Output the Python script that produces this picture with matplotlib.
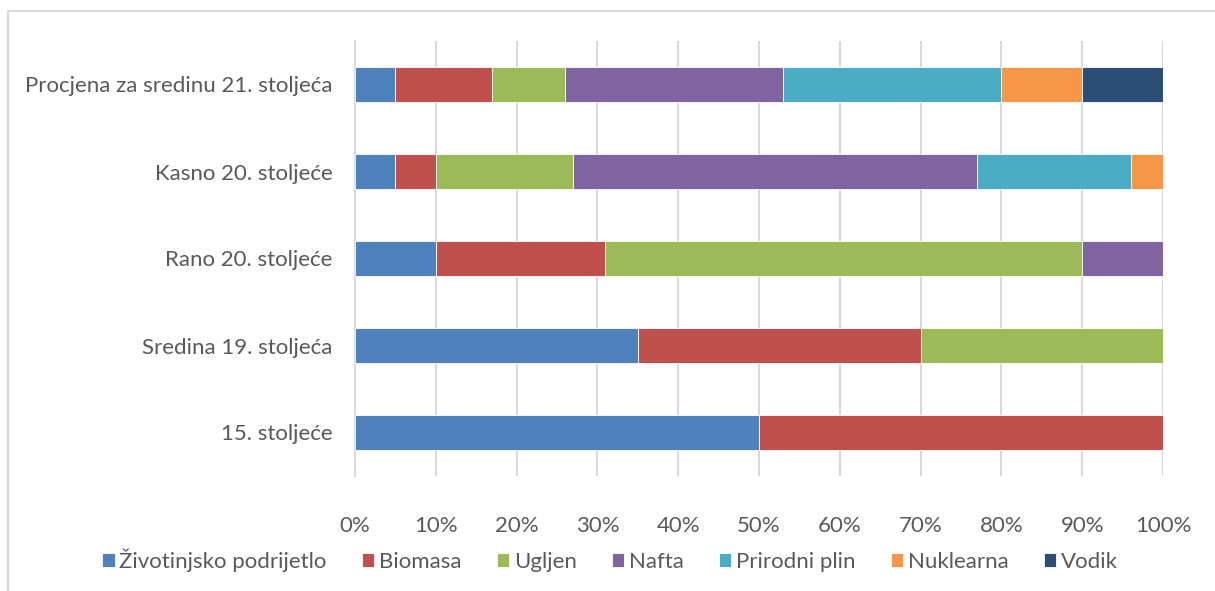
import matplotlib
matplotlib.use("Agg")
import matplotlib.pyplot as plt
from matplotlib.patches import Rectangle
import numpy as np

categories = ["15. stoljeće", "Sredina 19. stoljeća", "Rano 20. stoljeće",
              "Kasno 20. stoljeće", "Procjena za sredinu 21. stoljeća"]
series_names = ["Životinjsko podrijetlo", "Biomasa", "Ugljen", "Nafta",
                "Prirodni plin", "Nuklearna", "Vodik"]
zivotinjsko = [50, 35, 10, 5, 5]
biomasa = [50, 35, 21, 5, 12]
ugljen = [0, 30, 59, 17, 9]
nafta = [0, 0, 10, 50, 27]
plin = [0, 0, 0, 19, 27]
nuklearna = [0, 0, 0, 4, 10]
vodik = [0, 0, 0, 0, 10]
tick_labels = ["0%", "10%", "20%", "30%", "40%", "50%", "60%", "70%", "80%", "90%", "100%"]

colors = ["#4F81BD", "#C0504D", "#9BBB59", "#8064A2", "#4BACC6", "#F79646", "#2C4D75"]

plt.rcParams['font.family'] = ['Lato', 'DejaVu Sans']
fig = plt.figure(figsize=(12.15, 5.91), dpi=100)
ax = fig.add_axes([355/1215, 1-476/591, (1163-355)/1215, (476-41)/591])

data = [zivotinjsko, biomasa, ugljen, nafta, plin, nuklearna, vodik]
y = np.arange(len(categories))
left = np.zeros(len(categories))
for name, vals, c in zip(series_names, data, colors):
    vals = np.array(vals, dtype=float)
    ax.barh(y, vals, left=left, height=0.4, color=c, label=name, zorder=3,
            edgecolor='white', linewidth=0.6)
    left += vals

ax.set_xlim(0, 100)
ax.set_ylim(-0.5, 4.5)
ax.set_xticks(np.arange(0, 101, 10))
ax.set_xticklabels(tick_labels)
ax.set_yticks(y)
ax.set_yticklabels(categories)
ax.tick_params(axis='both', length=0, labelsize=16, colors='#595959', pad=16)
ax.tick_params(axis='x', pad=29)
ax.xaxis.grid(True, color='#D9D9D9', linewidth=1.5, zorder=0)
for s in ['top', 'right', 'bottom']:
    ax.spines[s].set_visible(False)
ax.spines['left'].set_color('#D9D9D9')
ax.spines['left'].set_linewidth(1.5)

leg = fig.legend(loc='center', bbox_to_anchor=(610/1215, 1-560/591), ncol=7,
                 frameon=False, fontsize=16, handlelength=0.55, handleheight=0.55,
                 handletextpad=0.22, columnspacing=1.58, labelcolor='#595959')

fig.patches.append(Rectangle((8/1215, -0.1), 1.2, 1-11/591+0.1, transform=fig.transFigure,
                             fill=False, edgecolor='#D9D9D9', linewidth=1.5))

fig.savefig("out.png", dpi=100)
